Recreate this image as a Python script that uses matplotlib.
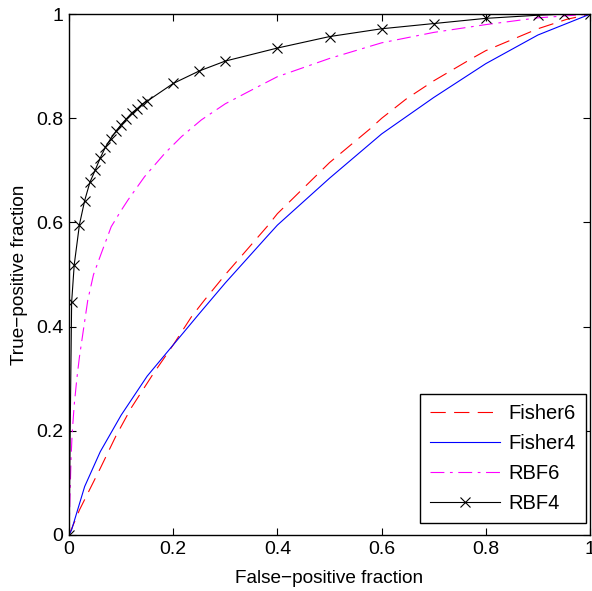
import matplotlib
matplotlib.use("Agg")
import matplotlib.pyplot as plt

plt.rcParams['font.family'] = ['Liberation Sans', 'DejaVu Sans']
plt.rcParams['lines.scale_dashes'] = False

# ROC curves
fisher6_fp = [0.0, 0.02, 0.04, 0.06, 0.09, 0.12, 0.16, 0.2, 0.235, 0.26, 0.3, 0.38, 0.4,
              0.5, 0.578, 0.6, 0.647, 0.7, 0.775, 0.8, 0.9, 0.955, 1.0]
fisher6_tp = [0.0, 0.048, 0.088, 0.128, 0.19, 0.245, 0.307, 0.365, 0.419, 0.451, 0.50, 0.592, 0.617,
              0.715, 0.78, 0.80, 0.837, 0.872, 0.916, 0.93, 0.972, 0.99, 1.0]

fisher4_fp = [0.0, 0.005, 0.03, 0.06, 0.1, 0.15, 0.2, 0.25, 0.3, 0.38, 0.4, 0.5, 0.6, 0.7,
              0.8, 0.9, 1.0]
fisher4_tp = [0.0, 0.01, 0.093, 0.16, 0.23, 0.305, 0.365, 0.425, 0.484, 0.573, 0.595, 0.685,
              0.77, 0.84, 0.905, 0.96, 1.0]

rbf6_fp = [0.0, 0.002, 0.004, 0.006, 0.01, 0.015, 0.02, 0.036, 0.047, 0.062, 0.081, 0.1,
           0.113, 0.145, 0.184, 0.216, 0.254, 0.3, 0.367, 0.4, 0.5, 0.6, 0.7, 0.8, 0.9, 1.0]
rbf6_tp = [0.0, 0.08, 0.15, 0.195, 0.25, 0.30, 0.342, 0.451, 0.50, 0.541, 0.592, 0.623,
           0.643, 0.688, 0.733, 0.765, 0.797, 0.828, 0.863, 0.88, 0.915, 0.945, 0.965,
           0.98, 0.993, 1.0]

rbf4_fp = [0.0, 0.005, 0.01, 0.02, 0.03, 0.04, 0.05, 0.06, 0.07, 0.08, 0.09, 0.10, 0.11,
           0.12, 0.13, 0.14, 0.15, 0.2, 0.25, 0.3, 0.4, 0.5, 0.6, 0.7, 0.8, 0.9, 0.95, 1.0]
rbf4_tp = [0.0, 0.447, 0.519, 0.596, 0.642, 0.677, 0.70, 0.724, 0.745, 0.761, 0.775, 0.788,
           0.799, 0.81, 0.818, 0.827, 0.833, 0.867, 0.891, 0.91, 0.935, 0.957, 0.972,
           0.982, 0.992, 0.998, 1.0, 1.0]

ticks = [0, 0.2, 0.4, 0.6, 0.8, 1]
tick_labels = ['0', '0.2', '0.4', '0.6', '0.8', '1']

fig = plt.figure(figsize=(5.92, 5.91), dpi=100)
ax = fig.add_axes([0.1166, 0.0948, 0.88, 0.8812])

ax.plot(fisher6_fp, fisher6_tp, color='#ff0000', lw=0.8, linestyle=(0, (11, 6)), label='Fisher6')
ax.plot(fisher4_fp, fisher4_tp, color='#0000ff', lw=0.8, label='Fisher4')
ax.plot(rbf6_fp, rbf6_tp, color='#ff00ff', lw=0.8, linestyle=(0, (10, 4, 2, 4)), label='RBF6')
ax.plot(rbf4_fp, rbf4_tp, color='black', lw=0.8, marker='x', markersize=7,
        markeredgewidth=0.8, label='RBF4')

ax.set_xlim(0, 1)
ax.set_ylim(0, 1)
ax.set_xticks(ticks)
ax.set_xticklabels(tick_labels)
ax.set_yticks(ticks)
ax.set_yticklabels(tick_labels)
ax.tick_params(direction='in', top=True, right=True, length=5, width=0.8,
               labelsize=14, pad=4)
for s in ax.spines.values():
    s.set_linewidth(1.0)

ax.set_xlabel('False\u2212positive fraction', fontsize=13.7, labelpad=9)
ax.set_ylabel('True\u2212positive fraction', fontsize=13.7, labelpad=6)

leg = ax.legend(loc='lower right', bbox_to_anchor=(0.992, 0.023), fontsize=14.5,
                fancybox=False, framealpha=1, edgecolor='black', handlelength=3.5,
                borderpad=0.5, labelspacing=0.55, handletextpad=0.4, borderaxespad=0)
leg.get_frame().set_linewidth(1.0)

fig.savefig('out.png', dpi=100)
